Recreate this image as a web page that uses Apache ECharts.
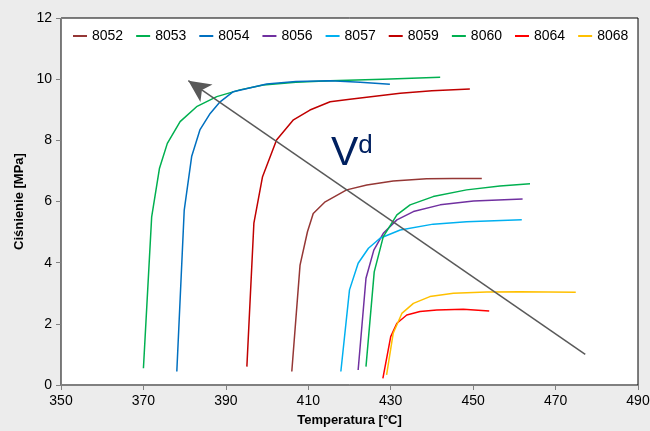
<!DOCTYPE html>
<html>
<head>
<meta charset="utf-8">
<script src="https://cdn.jsdelivr.net/npm/echarts@6/dist/echarts.min.js"></script>
<style>html,body{margin:0;padding:0;background:#ececec;}#c{width:650px;height:431px;}</style>
</head>
<body>
<div id="c"></div>
<script>
var seriesNames = ['8052','8053','8054','8056','8057','8059','8060','8064','8068'];
var s8052 = [[406.0,0.44],[408.0,3.92],[409.8,5.01],[411.2,5.61],[414.1,5.99],[419.3,6.38],[424.2,6.54],[430.6,6.67],[438.7,6.74],[445.0,6.75],[452.1,6.75]];
var s8053 = [[370.0,0.55],[372.0,5.50],[373.9,7.09],[375.8,7.90],[378.9,8.61],[382.9,9.10],[387.8,9.43],[393.4,9.65],[399.1,9.81],[407.0,9.90],[415.3,9.95],[428.1,10.00],[442.0,10.06]];
var s8054 = [[378.1,0.44],[379.9,5.72],[381.7,7.47],[383.7,8.34],[386.2,8.88],[388.6,9.26],[391.8,9.59],[399.9,9.84],[407.0,9.92],[415.3,9.95],[422.6,9.90],[429.8,9.83]];
var s8056 = [[422.1,0.49],[424.0,3.49],[425.9,4.41],[428.2,4.96],[431.5,5.40],[435.5,5.67],[442.0,5.89],[450.1,6.02],[462.0,6.08]];
var s8057 = [[417.9,0.44],[420.0,3.11],[422.1,3.98],[424.6,4.47],[427.4,4.80],[432.3,5.07],[440.3,5.26],[448.4,5.34],[461.8,5.40]];
var s8059 = [[395.1,0.60],[396.8,5.29],[398.9,6.81],[402.3,8.01],[406.4,8.67],[410.4,8.99],[415.3,9.26],[420.1,9.34],[432.3,9.54],[440.0,9.62],[449.2,9.68]];
var s8060 = [[424.0,0.60],[426.0,3.70],[428.2,4.85],[431.5,5.56],[434.7,5.89],[440.3,6.16],[448.4,6.38],[456.5,6.51],[463.8,6.58]];
var s8064 = [[428.1,0.22],[430.0,1.58],[431.5,2.02],[433.9,2.29],[437.1,2.40],[441.2,2.45],[447.6,2.48],[453.9,2.42]];
var s8068 = [[429.0,0.33],[430.6,1.69],[432.7,2.34],[435.5,2.67],[439.5,2.89],[445.2,3.00],[453.3,3.04],[461.4,3.05],[474.9,3.03]];
var arrowFrom = [477.2, 1.00];
var arrowTo = [380.9, 9.95];
var xTicks = [350, 490, 20];
var yTicks = [0, 12, 2];

var colors = ['#953735','#00b050','#0070c0','#7030a0','#00b0f0','#c00000','#00b050','#ff0000','#ffc000'];
var datasets = [s8052,s8053,s8054,s8056,s8057,s8059,s8060,s8064,s8068];

var chart = echarts.init(document.getElementById('c'));
var series = seriesNames.map(function(n,i){
  return {name:n,type:'line',data:datasets[i],symbol:'none',smooth:false,
    lineStyle:{color:colors[i],width:1.5},itemStyle:{color:colors[i]},z:2};
});
series.push({type:'line',data:[],silent:true,
  markLine:{silent:true,symbol:['none','arrow'],symbolSize:[16,22],
    lineStyle:{color:'#595959',width:1.5,type:'solid'},label:{show:false},
    data:[[{coord:arrowFrom},{coord:arrowTo}]]}});

chart.setOption({
  backgroundColor:'#ececec',
  animation:false,
  textStyle:{fontFamily:'Liberation Sans, Arial, sans-serif'},
  grid:{left:61,top:18,right:12,bottom:46,outerBoundsMode:'none',containLabel:false,show:true,backgroundColor:'#ffffff',borderColor:'#000000',borderWidth:1},
  legend:{data:seriesNames,top:24,left:68,itemWidth:14,itemHeight:2,itemGap:13,icon:'rect',
    textStyle:{fontSize:14,color:'#000',fontFamily:'Liberation Sans, Arial, sans-serif'}},
  xAxis:{type:'value',min:xTicks[0],max:xTicks[1],interval:xTicks[2],
    name:'Temperatura [°C]',nameLocation:'middle',nameGap:29,
    nameTextStyle:{fontSize:13,fontWeight:'bold',color:'#000'},
    axisLine:{lineStyle:{color:'#808080',width:1}},
    axisTick:{show:true,length:5,lineStyle:{color:'#808080'}},
    axisLabel:{fontSize:14,color:'#000',margin:9},
    splitLine:{show:false}},
  yAxis:{type:'value',min:yTicks[0],max:yTicks[1],interval:yTicks[2],
    name:'Ciśnienie [MPa]',nameLocation:'middle',nameGap:35,
    nameTextStyle:{fontSize:13,fontWeight:'bold',color:'#000'},
    axisLine:{show:true,lineStyle:{color:'#808080',width:1}},
    axisTick:{show:true,length:5,lineStyle:{color:'#808080'}},
    axisLabel:{fontSize:14,color:'#000',margin:9},
    splitLine:{show:false}},
  graphic:[{type:'text',left:331,top:133,z:10,
    style:{text:'{v|V}{d|d}',rich:{v:{fontSize:41,fill:'#002060',fontFamily:'Liberation Sans, Arial, sans-serif',verticalAlign:'bottom'},
      d:{fontSize:26,fill:'#002060',fontFamily:'Liberation Sans, Arial, sans-serif',verticalAlign:'top'}}}}],
  series:series
});
</script>
</body>
</html>
